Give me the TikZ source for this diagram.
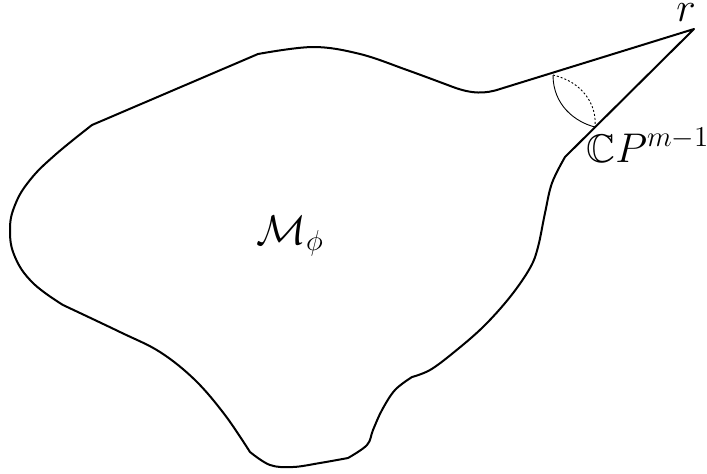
\documentclass[tikz,border=0pt]{standalone}
\usepackage{amssymb}
\begin{document}
\begin{tikzpicture}[x=0.5pt,y=-0.5pt,
  outline/.style={line width=1pt,line join=round},
  thinarc/.style={line width=0.45pt},
  dotarc/.style={line width=0.45pt,dash pattern=on 1pt off 1pt},
  lab/.style={inner sep=0pt,font=\fontsize{20}{24}\selectfont}]
\useasboundingbox (0,0) rectangle (707,473);
\coordinate (tip) at (694,29);
\coordinate (up) at (553,75);
\coordinate (low) at (595,127);
\draw[outline] (92,125) -- (258,54)
  -- plot[smooth,tension=0.6] coordinates {(258,54) (313,47) (360,54) (407,70) (453,87)}
  .. controls (472,94) and (485,94) .. (500,89)
  -- (tip) -- (565,157)
  -- plot[smooth,tension=0.6] coordinates {(565,157) (552,183) (545,213) (538,247) (530,268) (510,297) (483,327) (453,353) (430,370) (412,377)}
  -- plot[smooth,tension=0.6] coordinates {(412,377) (395,390) (382,410) (373,430) (367,445) (348,458)}
  -- plot[smooth,tension=0.6] coordinates {(348,458) (320,463) (293,467) (270,465) (250,452)}
  -- plot[smooth,tension=0.6] coordinates {(250,452) (225,415) (195,380) (160,352) (120,332) (63,305)}
  -- plot[smooth,tension=0.7] coordinates {(63,305) (33,283) (15,257) (10,230) (15,205) (30,180) (55,155) (92,125)}
  -- cycle;
\draw[thinarc] (up) .. controls (553,105) and (575,122) .. (low);
\draw[dotarc] (up) .. controls (583,82) and (597,105) .. (low);
\node[lab,anchor=base] (r) at (686,21) {$r$};
\node[lab,anchor=base west] (cp) at (586,162) {$\mathbb{C}P^{m-1}$};
\node[lab,anchor=base west] (M) at (256,244) {$\mathcal{M}_\phi$};
\end{tikzpicture}
\end{document}
